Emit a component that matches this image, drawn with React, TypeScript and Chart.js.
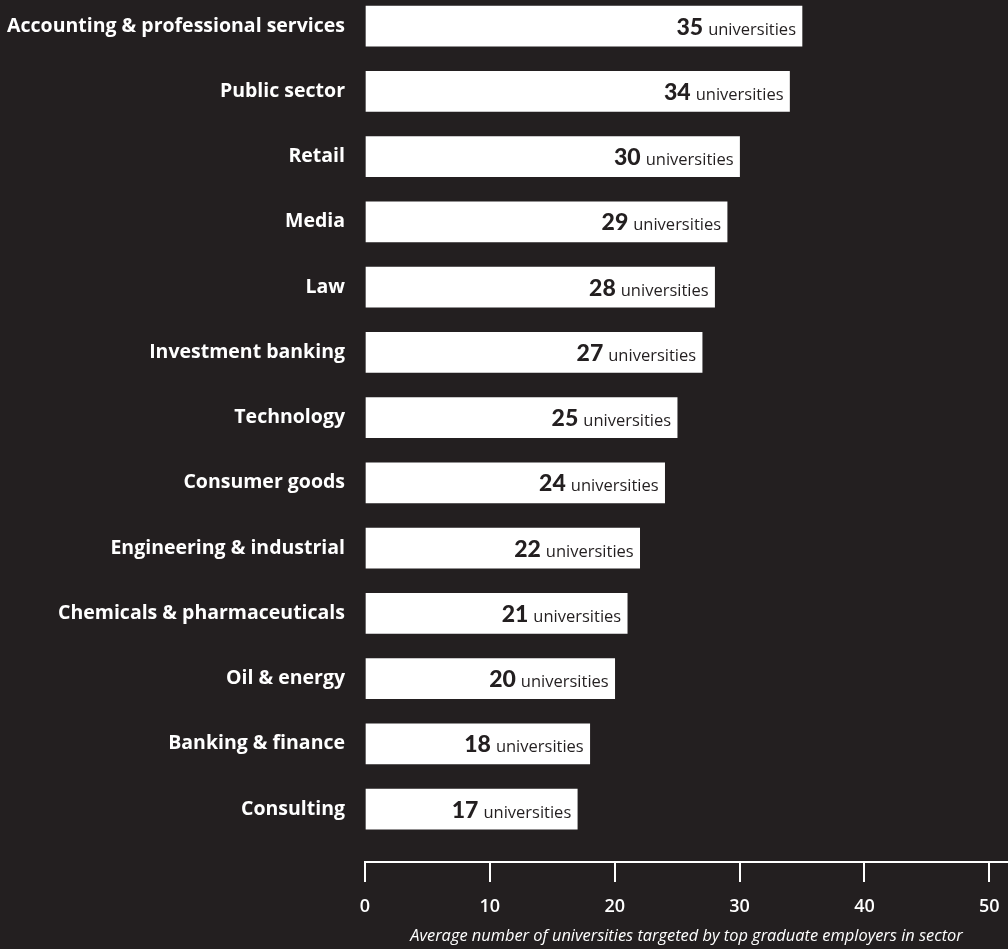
import React, { useEffect, useRef } from "react";
import { Chart, registerables } from "chart.js";

Chart.register(...registerables);

const categories = [
  "Accounting & professional services",
  "Public sector",
  "Retail",
  "Media",
  "Law",
  "Investment banking",
  "Technology",
  "Consumer goods",
  "Engineering & industrial",
  "Chemicals & pharmaceuticals",
  "Oil & energy",
  "Banking & finance",
  "Consulting",
];
const values = [35, 34, 30, 29, 28, 27, 25, 24, 22, 21, 20, 18, 17];
const xTicks = [0, 10, 20, 30, 40, 50];
const unitLabel = "universities";
const axisTitle = "Average number of universities targeted by top graduate employers in sector";

const BG = "#231f20";

const valueLabelPlugin = {
  id: "valueLabels",
  afterDatasetsDraw(chart: any) {
    const ctx = chart.ctx;
    const meta = chart.getDatasetMeta(0);
    ctx.save();
    ctx.fillStyle = BG;
    ctx.textBaseline = "alphabetic";
    meta.data.forEach((bar: any, i: number) => {
      const right = bar.x - 6;
      const base = bar.y + 8.5;
      ctx.font = "16.5px 'Open Sans'";
      ctx.textAlign = "right";
      ctx.fillText(unitLabel, right, base);
      const w = ctx.measureText(unitLabel).width;
      ctx.font = "900 23px Lato";
      ctx.fillText(String(values[i]), right - w - 5, base);
    });
    ctx.restore();
  },
};

export default function App() {
  const ref = useRef<HTMLCanvasElement | null>(null);
  useEffect(() => {
    document.body.style.margin = "0";
    document.body.style.background = BG;
    const canvas = ref.current!;
    const chart = new Chart(canvas, {
      type: "bar",
      data: {
        datasets: [
          {
            data: values.map((v, i) => ({ x: v, y: i })),
            backgroundColor: "#ffffff",
            borderWidth: 0,
            barThickness: 40,
          },
        ],
      },
      options: {
        indexAxis: "y",
        animation: false,
        responsive: false,
        maintainAspectRatio: false,
        layout: { padding: 0 },
        plugins: {
          legend: { display: false },
          tooltip: { enabled: false },
        },
        scales: {
          y: {
            type: "linear",
            reverse: true,
            offset: false,
            min: -0.4,
            max: 12.81,
            afterBuildTicks: (scale: any) => {
              scale.ticks = categories.map((_, i) => ({ value: i }));
            },
            afterFit: (scale: any) => {
              scale.width = 365;
              scale.paddingTop = 0;
              scale.paddingBottom = 0;
            },
            grid: { display: false, drawTicks: false, offset: false },
            border: { display: false },
            ticks: {
              autoSkip: false,
              padding: 20,
              color: "#ffffff",
              font: { family: "'Open Sans'", size: 19.5, weight: "bold" },
              callback: (v: any) => categories[v as number],
            },
          },
          x: {
            type: "linear",
            min: 0,
            max: 51.5,
            offset: false,
            afterBuildTicks: (scale: any) => {
              scale.ticks = xTicks.map((v) => ({ value: v }));
            },
            afterFit: (scale: any) => {
              scale.height = 87;
              scale.paddingLeft = 0;
              scale.paddingRight = 0;
            },
            grid: {
              drawOnChartArea: false,
              drawTicks: true,
              tickLength: 20,
              color: "#ffffff",
              lineWidth: 2,
            },
            border: { display: true, color: "#ffffff", width: 2 },
            ticks: {
              padding: 14,
              color: "#ffffff",
              font: { family: "'Open Sans'", size: 18, weight: "600" },
            },
            title: {
              display: true,
              text: axisTitle,
              color: "#ffffff",
              font: { family: "'Open Sans'", size: 16.4, style: "italic" },
              padding: { top: 0, bottom: 3 },
            },
          },
        },
      },
      plugins: [valueLabelPlugin],
    });
    return () => chart.destroy();
  }, []);
  return (
    <div style={{ position: "absolute", left: 0, top: 0, width: 1008, height: 949, background: BG }}>
      <canvas ref={ref} width={1008} height={949} style={{ width: 1008, height: 949, display: "block" }} />
    </div>
  );
}
